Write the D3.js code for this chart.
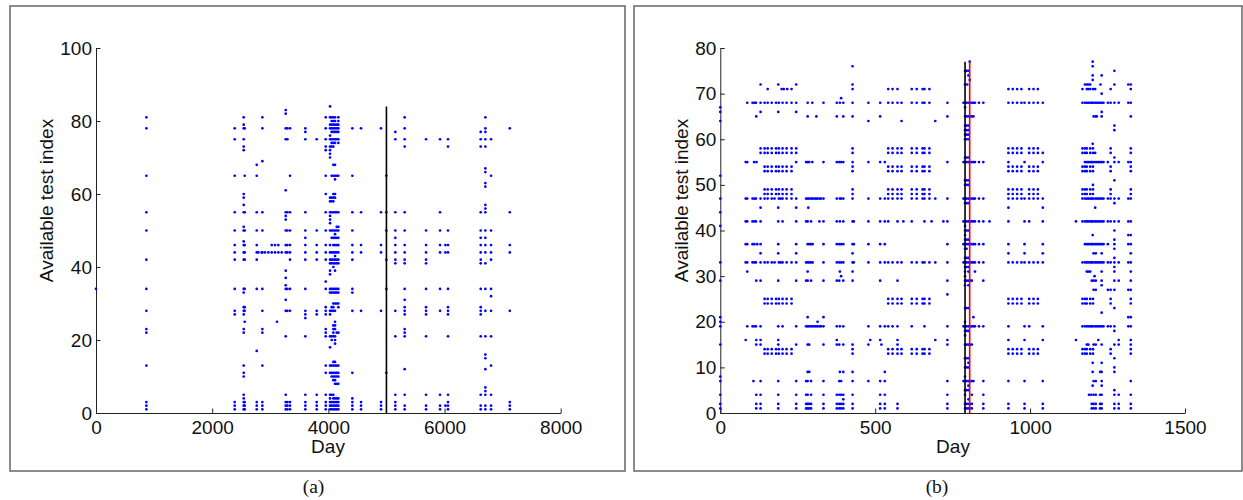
<!DOCTYPE html>
<html>
<head>
<meta charset="utf-8">
<script src="https://cdn.jsdelivr.net/npm/d3@7"></script>
<style>
	body { margin: 0; background: #fff; }
	svg { display: block; }
	text { font-family: "Liberation Sans", Arial, sans-serif; fill: #111; }
	.caption { font-family: "Liberation Serif", serif; font-size: 19.5px; }
	.axis text { font-family: "Liberation Sans", Arial, sans-serif; font-size: 19px; }
	.axis path, .axis line { stroke: #222; stroke-width: 1; }
</style>
</head>
<body>
<svg id="canvas" width="1243" height="500"></svg>
<script>
// panel (a): one list of test indices per day
var daysA = [0, 867, 2388, 2543, 2560, 2767, 2795, 2852, 2864, 2910, 2967, 3025, 3082, 3116, 3139, 3197, 3266, 3295, 3340, 3604, 3800, 3955, 4029, 4057, 4086, 4115, 4144, 4172, 4413, 4563, 4907, 4998, 5153, 5314, 5682, 5923, 6015, 6060, 6623, 6703, 6801, 7124];
var testsA = [
	[34],
	[81, 78, 65, 55, 50, 42, 34, 28, 23, 22, 13, 3, 2, 1],
	[78, 75, 65, 55, 50, 46, 44, 42, 34, 28, 27, 3, 2, 1],
	[81, 79, 78, 75, 73, 72, 60, 59, 57, 55, 51, 50, 47, 46, 44, 42, 34, 33, 29, 28, 27, 23, 22, 13, 11, 10, 5, 4, 3, 2, 1],
	[78, 65, 55, 50, 46, 44, 42, 34, 29, 28, 25, 3, 2, 1],
	[68, 65, 55, 50, 46, 44, 42, 34, 17, 3, 2, 1],
	[44],
	[44],
	[81, 78, 69, 55, 50, 44, 34, 28, 23, 22, 13, 3, 2, 1],
	[44],
	[44],
	[46, 44],
	[46, 44],
	[25],
	[46, 44],
	[44],
	[83, 82, 78, 75, 61, 55, 54, 53, 50, 46, 44, 39, 37, 35, 34, 31, 28, 21, 5, 3, 2, 1],
	[78, 75, 55, 50, 46, 44, 34, 28, 3, 2, 1],
	[78, 65, 55, 50, 46, 44, 42, 34, 28, 3, 2, 1],
	[78, 77, 75, 55, 50, 48, 46, 44, 42, 34, 28, 27, 26, 21, 5, 3, 2, 1],
	[75, 50, 46, 44, 42, 28, 27, 5, 3, 2, 1],
	[81, 78, 75, 73, 72, 65, 60, 55, 50, 46, 44, 42, 36, 34, 29, 28, 27, 23, 22, 21, 13, 11, 5, 3, 2, 1],
	[84, 81, 79, 78, 76, 75, 73, 72, 71, 70, 59, 58, 55, 54, 53, 52, 50, 46, 44, 42, 41, 39, 38, 34, 33, 28, 27, 21, 18, 13, 11, 5, 4, 3, 2, 1],
	[81, 80, 79, 78, 77, 75, 74, 73, 65, 59, 58, 55, 50, 48, 44, 42, 41, 34, 33, 29, 28, 21, 20, 13, 11, 10, 5, 3, 2, 1],
	[81, 80, 79, 78, 77, 75, 74, 73, 68, 65, 60, 59, 58, 55, 50, 48, 46, 44, 42, 41, 40, 34, 33, 30, 29, 28, 24, 23, 22, 21, 14, 13, 11, 10, 9, 5, 4, 3, 2, 1],
	[81, 80, 79, 78, 77, 75, 74, 68, 65, 64, 60, 59, 55, 50, 49, 48, 46, 44, 43, 42, 41, 39, 34, 33, 30, 28, 25, 24, 23, 21, 20, 19, 14, 13, 11, 10, 9, 8, 4, 3, 2, 1],
	[79, 78, 77, 75, 65, 55, 51, 50, 48, 46, 44, 42, 41, 34, 33, 30, 22, 13, 11, 10, 8, 4, 3, 2, 1],
	[81, 80, 79, 78, 77, 75, 74, 65, 55, 51, 50, 48, 46, 44, 42, 41, 34, 33, 30, 29, 22, 13, 11, 10, 8, 4, 3, 2, 1],
	[78, 65, 55, 50, 46, 44, 42, 34, 33, 28, 11, 4, 3, 2, 1],
	[78, 55, 46, 44, 28, 3, 2, 1],
	[78, 55, 46, 44, 28, 3, 2, 1],
	[65, 55, 50, 42, 34, 11],
	[77, 75, 55, 50, 48, 46, 44, 42, 41, 28, 21, 5, 3, 2, 1],
	[81, 78, 75, 73, 55, 50, 46, 44, 42, 41, 34, 31, 29, 28, 27, 23, 22, 21, 12, 5, 2, 1],
	[75, 50, 46, 44, 42, 41, 34, 29, 28, 27, 21, 5, 2, 1],
	[75, 55, 50, 46, 44, 34, 28, 5, 2, 1],
	[46, 44, 2],
	[75, 73, 50, 46, 44, 34, 29, 28, 27, 21, 5, 3, 2, 1],
	[77, 75, 73, 55, 50, 48, 46, 44, 42, 41, 34, 29, 28, 27, 21, 5, 2, 1],
	[81, 78, 77, 75, 73, 67, 66, 63, 62, 57, 56, 55, 50, 48, 46, 44, 41, 34, 28, 21, 16, 15, 12, 7, 6, 5, 2, 1],
	[75, 65, 50, 46, 44, 42, 34, 32, 28, 21, 13, 5, 2, 1],
	[78, 55, 46, 44, 28, 3, 2, 1]
];
var yTicksA = [0, 20, 40, 60, 80, 100];
var xTicksA = [0, 2000, 4000, 6000, 8000];

// panel (b): one list of days per test index
var surgeB = [785, 790, 795, 801, 806, 812, 817, 822];
var nearB = [790, 795, 801];
var runB = [1177, 1183, 1188, 1194, 1199, 1203, 1210, 1215, 1220, 1226, 1231, 1237];
var blockB = [143, 153, 166, 180, 189, 201, 214, 230, 542, 556, 572, 585, 618, 634, 653, 659, 675, 930, 944, 958, 972, 997, 1011, 1025, 1169, 1177, 1183, 1194, 1203, 1260, 1325];
var testsB = [77, 76, 75, 74, 73, 72, 71, 70, 69, 68, 67, 66, 65, 64, 63, 62, 61, 60, 59, 58, 57, 56, 55, 54, 53, 52, 51, 50, 49, 48, 47, 46, 45, 44, 42, 41, 40, 39, 38, 37, 36, 35, 34, 33, 32, 31, 30, 29, 28, 27, 26, 25, 24, 23, 22, 21, 20, 19, 18, 17, 16, 15, 14, 13, 12, 11, 10, 9, 8, 7, 6, 5, 4, 3, 2, 1];
var daysB = [
	[805, 1202],
	[427, 1202],
	[1272].concat(nearB),
	[801, 1202, 1231],
	[805, 1202],
	[130, 187, 245, 427, 790, 797, 1177, 1183, 1188, 1194, 1227, 1272, 1317, 1325],
	[153, 198, 205, 216, 230, 427, 542, 556, 572, 618, 634, 653, 659, 675, 930, 944, 958, 972, 997, 1011, 1025, 1169, 1183, 1188, 1194, 1203, 1210, 1260, 1325],
	[1231],
	[390],
	[87, 104, 110, 115, 130, 143, 153, 166, 180, 189, 201, 214, 230, 245, 282, 297, 333, 376, 386, 397, 427, 478, 516, 542, 556, 572, 585, 618, 634, 653, 659, 675, 733, 835, 849, 930, 944, 958, 972, 982, 997, 1011, 1025, 1041, 1169, 1251, 1260, 1272, 1286, 1317, 1325].concat(surgeB, runB),
	[0, 790],
	[0, 130, 187, 245, 1231],
	[116, 282, 310, 376, 397, 427, 516, 733, 790, 795, 801, 806, 812, 817, 1205, 1212, 1215, 1231, 1325],
	[0, 478, 585, 694],
	[1272].concat(nearB),
	[1272].concat(nearB),
	nearB,
	nearB,
	[1202],
	blockB.concat([130, 245, 427]),
	blockB.concat([130, 245, 427, 1041, 1210]),
	[1272].concat(nearB),
	[82, 87, 109, 117, 245, 277, 282, 287, 297, 333, 376, 384, 390, 397, 427, 478, 516, 531, 733, 835, 849, 930, 982, 1041, 1251, 1272, 1286, 1317, 1325].concat(surgeB, runB),
	blockB.concat([427]),
	blockB.concat([427]),
	[0],
	[1272].concat(nearB),
	[1203].concat(nearB),
	blockB.concat([427]),
	blockB.concat([427]),
	[0, 82, 87, 104, 110, 115, 130, 143, 153, 166, 175, 189, 195, 201, 214, 230, 245, 277, 282, 287, 293, 298, 304, 309, 314, 320, 325, 333, 376, 386, 390, 397, 427, 478, 516, 531, 542, 556, 572, 585, 618, 634, 653, 659, 675, 694, 733, 835, 849, 930, 944, 958, 972, 982, 997, 1011, 1025, 1041, 1169, 1251, 1260, 1272, 1286, 1317, 1325].concat(surgeB, runB),
	[1272].concat(nearB),
	[130, 187, 245, 284, 930, 1041, 1210],
	[0],
	[82, 87, 104, 110, 115, 130, 187, 201, 245, 277, 282, 293, 320, 333, 376, 386, 397, 427, 431, 478, 516, 531, 542, 572, 591, 618, 659, 682, 720, 733, 835, 849, 869, 930, 982, 997, 1041, 1148, 1169, 1251, 1260, 1272, 1286, 1317, 1325].concat(surgeB, runB),
	[0, 790],
	[1272].concat(nearB),
	[790, 1202, 1317, 1325],
	[1272].concat(nearB),
	[82, 87, 104, 110, 119, 130, 187, 245, 282, 287, 293, 298, 333, 376, 384, 390, 397, 427, 431, 478, 516, 531, 733, 835, 849, 930, 982, 1041, 1251, 1272, 1317, 1325].concat(surgeB, runB),
	[790, 795, 1272],
	[130, 187, 245, 427, 930, 982, 1041, 1205, 1212, 1231, 1325],
	[790, 795, 801, 1272],
	[0, 82, 87, 104, 110, 115, 130, 143, 153, 166, 175, 189, 195, 201, 214, 230, 245, 277, 282, 287, 293, 298, 333, 376, 384, 390, 397, 427, 431, 478, 516, 531, 542, 556, 572, 585, 618, 634, 653, 659, 675, 694, 733, 835, 849, 930, 944, 958, 972, 982, 997, 1011, 1025, 1041, 1169, 1251, 1260, 1272, 1286, 1317, 1325].concat(surgeB, runB),
	[1272].concat(nearB),
	[87, 282, 386, 427, 790, 801, 822, 1183, 1188, 1194, 1231, 1272, 1325],
	[390, 790, 1208],
	[0, 116, 130, 187, 245, 277, 282, 293, 333, 376, 384, 397, 427, 516, 572, 733, 790, 795, 801, 806, 812, 849, 1199, 1205, 1212, 1231, 1272, 1286, 1325],
	[790, 801, 1231],
	[1205, 1212, 1251, 1260, 1272, 1317, 1325],
	[733],
	blockB,
	blockB,
	[1272].concat(nearB),
	[1231],
	[0, 282, 333, 817, 1317, 1325],
	[0, 314, 790],
	[0, 87, 104, 110, 115, 130, 187, 201, 245, 277, 282, 287, 293, 298, 304, 309, 314, 320, 325, 333, 376, 386, 397, 478, 516, 531, 542, 556, 572, 618, 659, 733, 835, 849, 930, 982, 997, 1041, 1169, 1251, 1260, 1272, 1317, 1325].concat(surgeB, runB),
	[1272].concat(nearB),
	[790],
	[82, 116, 130, 187, 376, 484, 516, 572, 694, 733, 930, 982, 1041, 1148, 1220, 1286, 1325],
	[0, 116, 130, 187, 245, 282, 287, 333, 376, 384, 397, 427, 478, 520, 572, 733, 790, 795, 801, 806, 812, 1183, 1188, 1205, 1212, 1231, 1272, 1286, 1325],
	blockB.concat([427]),
	blockB.concat([427]),
	[1272].concat(nearB),
	[801, 1202, 1231],
	[1272].concat(nearB),
	[282, 287, 386, 397, 427, 531, 1202, 1226, 1231, 1272],
	[0, 790],
	[0, 107, 130, 187, 245, 277, 282, 293, 333, 384, 390, 427, 478, 516, 531, 733, 785, 790, 795, 801, 806, 812, 817, 849, 930, 982, 1041, 1205, 1212, 1231, 1325],
	[801, 1202, 1231],
	[1272].concat(nearB),
	[0, 116, 130, 187, 245, 277, 282, 293, 333, 376, 384, 390, 397, 427, 516, 531, 733, 790, 812, 849, 1190, 1197, 1205, 1212, 1226, 1231, 1272, 1286, 1325],
	[397, 801],
	[0, 116, 130, 187, 245, 277, 282, 287, 293, 333, 376, 384, 390, 397, 427, 516, 531, 572, 733, 790, 795, 801, 806, 812, 849, 930, 982, 1041, 1199, 1205, 1212, 1226, 1231, 1272, 1286, 1325],
	[0, 116, 130, 187, 245, 277, 282, 287, 293, 333, 376, 384, 390, 397, 427, 516, 531, 572, 733, 790, 795, 801, 806, 812, 849, 930, 982, 1041, 1199, 1205, 1212, 1226, 1231, 1272, 1286, 1325]
];
var yTicksB = [0, 10, 20, 30, 40, 50, 60, 70, 80];
var xTicksB = [0, 500, 1000, 1500];

function pointsA(){
	var list = [];
	daysA.forEach(function(day, i){
		testsA[i].forEach(function(test){
			list.push({day: day, test: test});
		});
	});
	return list;
}

function pointsB(){
	var list = [];
	testsB.forEach(function(test, i){
		daysB[i].forEach(function(day){
			list.push({day: day, test: test});
		});
	});
	return list;
}

function drawPanel(svg, opts){
	var x = d3.scaleLinear().domain([0, opts.xMax]).range(opts.xRange);
	var y = d3.scaleLinear().domain([0, opts.yMax]).range([413, 48]);
	var frame = opts.frame;

	svg.append('rect')
		.attr('x', frame[0])
		.attr('y', 6)
		.attr('width', frame[1] - frame[0])
		.attr('height', 465)
		.attr('fill', 'none')
		.attr('stroke', '#666')
		.attr('stroke-width', 1.5);

	svg.append('g')
		.attr('class', 'axis')
		.attr('transform', 'translate(0,413)')
		.call(d3.axisBottom(x).tickValues(opts.xTicks).tickFormat(d3.format('d')).tickSizeInner(-4.5).tickSizeOuter(0).tickPadding(7.5));

	svg.append('g')
		.attr('class', 'axis')
		.attr('transform', 'translate(' + opts.xRange[0] + ',0)')
		.call(d3.axisLeft(y).tickValues(opts.yTicks).tickFormat(d3.format('d')).tickSizeInner(-4.5).tickSizeOuter(0).tickPadding(4));

	svg.append('g').selectAll('circle')
		.data(opts.points)
		.enter().append('circle')
		.attr('cx', function(d){ return x(d.day); })
		.attr('cy', function(d){ return y(d.test); })
		.attr('r', 1.35)
		.attr('fill', '#0000ff');

	svg.append('g').selectAll('line')
		.data(opts.marks)
		.enter().append('line')
		.attr('x1', function(d){ return x(d.day); })
		.attr('x2', function(d){ return x(d.day); })
		.attr('y1', y(0))
		.attr('y2', function(d){ return y(d.top); })
		.attr('stroke', function(d){ return d.color; })
		.attr('stroke-width', 1.6);

	svg.append('text')
		.attr('x', opts.dayX)
		.attr('y', 453)
		.attr('text-anchor', 'middle')
		.attr('font-size', 19)
		.text('Day');

	svg.append('text')
		.attr('transform', 'translate(' + opts.labelX + ',200.5) rotate(-90)')
		.attr('text-anchor', 'middle')
		.attr('font-size', 19)
		.text('Available test index');

	svg.append('text')
		.attr('class', 'caption')
		.attr('x', opts.captionX)
		.attr('y', 493)
		.attr('text-anchor', 'middle')
		.text(opts.caption);
}

var svg = d3.select('#canvas');

drawPanel(svg, {
	xMax: 8000,
	yMax: 100,
	xRange: [96, 560.7],
	xTicks: xTicksA,
	yTicks: yTicksA,
	points: pointsA(),
	marks: [{day: 5000, top: 84, color: '#000'}],
	frame: [10, 625],
	dayX: 328,
	labelX: 52.5,
	captionX: 313.5,
	caption: '(a)'
});

drawPanel(svg, {
	xMax: 1500,
	yMax: 80,
	xRange: [720.3, 1185],
	xTicks: xTicksB,
	yTicks: yTicksB,
	points: pointsB(),
	marks: [{day: 790, top: 77, color: '#000'}, {day: 805, top: 77, color: '#f00000'}],
	frame: [634, 1242],
	dayX: 953,
	labelX: 687.5,
	captionX: 937,
	caption: '(b)'
});
</script>
</body>
</html>
